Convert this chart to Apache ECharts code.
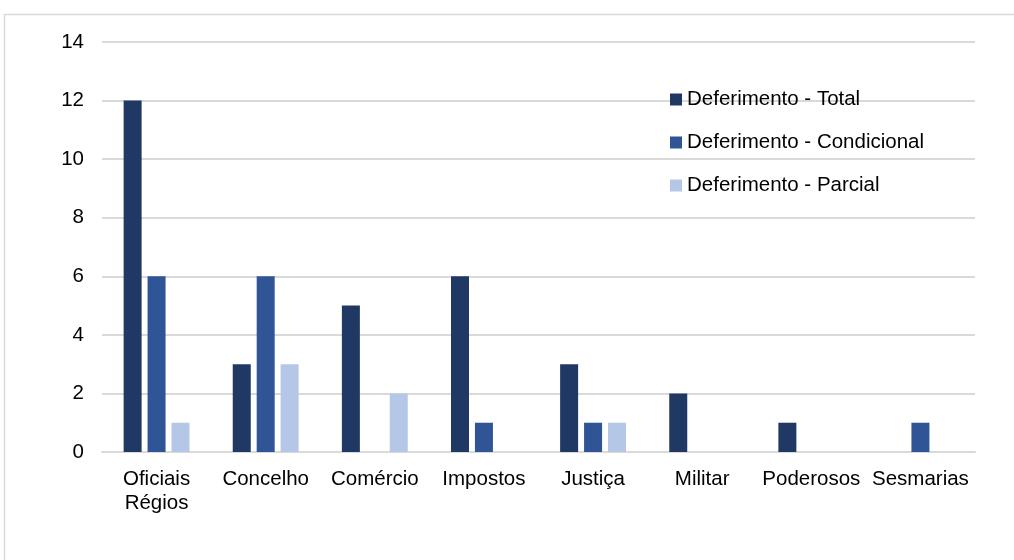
<!DOCTYPE html>
<html>
<head>
<meta charset="utf-8">
<script src="https://cdn.jsdelivr.net/npm/echarts@6/dist/echarts.min.js"></script>
<style>
  html, body { margin: 0; padding: 0; background: #fff; }
  #chart { width: 1014px; height: 560px; }
</style>
</head>
<body>
<div id="chart"></div>
<script>
// Categories and series values
const categories = ['Oficiais\nRégios', 'Concelho', 'Comércio', 'Impostos', 'Justiça', 'Militar', 'Poderosos', 'Sesmarias'];
const seriesNames = ['Deferimento - Total', 'Deferimento - Condicional', 'Deferimento - Parcial'];
const total = [12, 3, 5, 6, 3, 2, 1, 0];
const condicional = [6, 6, 0, 1, 1, 0, 0, 1];
const parcial = [1, 3, 2, 0, 1, 0, 0, 0];
const yTicks = { min: 0, max: 14, interval: 2 };

const colors = ['#203864', '#2F5597', '#B4C7E7'];
const font = 'Liberation Sans, Arial, sans-serif';
const gridColor = '#d9d9d9';
const fontSize = 20.5;

const chart = echarts.init(document.getElementById('chart'), null, { renderer: 'canvas' });

const mkSeries = (name, data, color) => ({
  name,
  type: 'bar',
  data,
  barWidth: 18,
  barGap: '33%',
  itemStyle: { color },
  emphasis: { disabled: true }
});

chart.setOption({
  animation: false,
  textStyle: { fontFamily: font },
  graphic: [{
    type: 'rect',
    shape: { x: 4.5, y: 14.5, width: 1100, height: 700 },
    style: { fill: 'none', stroke: gridColor, lineWidth: 1.5 },
    silent: true
  }],
  grid: { left: 102, right: 39, top: 42, bottom: 108, containLabel: false },
  legend: {
    orient: 'vertical',
    left: 665,
    top: 84,
    itemWidth: 12,
    itemHeight: 12,
    itemGap: 22,
    icon: 'rect',
    textStyle: { fontFamily: font, fontSize: fontSize, color: '#000', lineHeight: 20 },
    data: seriesNames
  },
  xAxis: {
    type: 'category',
    data: categories,
    axisLine: { show: true, lineStyle: { color: gridColor, width: 2 } },
    axisTick: { show: false },
    axisLabel: {
      interval: 0,
      margin: 15,
      fontFamily: font,
      fontSize: fontSize,
      lineHeight: 24,
      color: '#000'
    }
  },
  yAxis: {
    type: 'value',
    min: yTicks.min,
    max: yTicks.max,
    interval: yTicks.interval,
    axisLine: { show: false },
    axisTick: { show: false },
    axisLabel: { margin: 18, fontFamily: font, fontSize: fontSize, color: '#000' },
    splitLine: { lineStyle: { color: gridColor, width: 2 } }
  },
  series: [
    mkSeries(seriesNames[0], total, colors[0]),
    mkSeries(seriesNames[1], condicional, colors[1]),
    mkSeries(seriesNames[2], parcial, colors[2])
  ]
});
</script>
</body>
</html>
